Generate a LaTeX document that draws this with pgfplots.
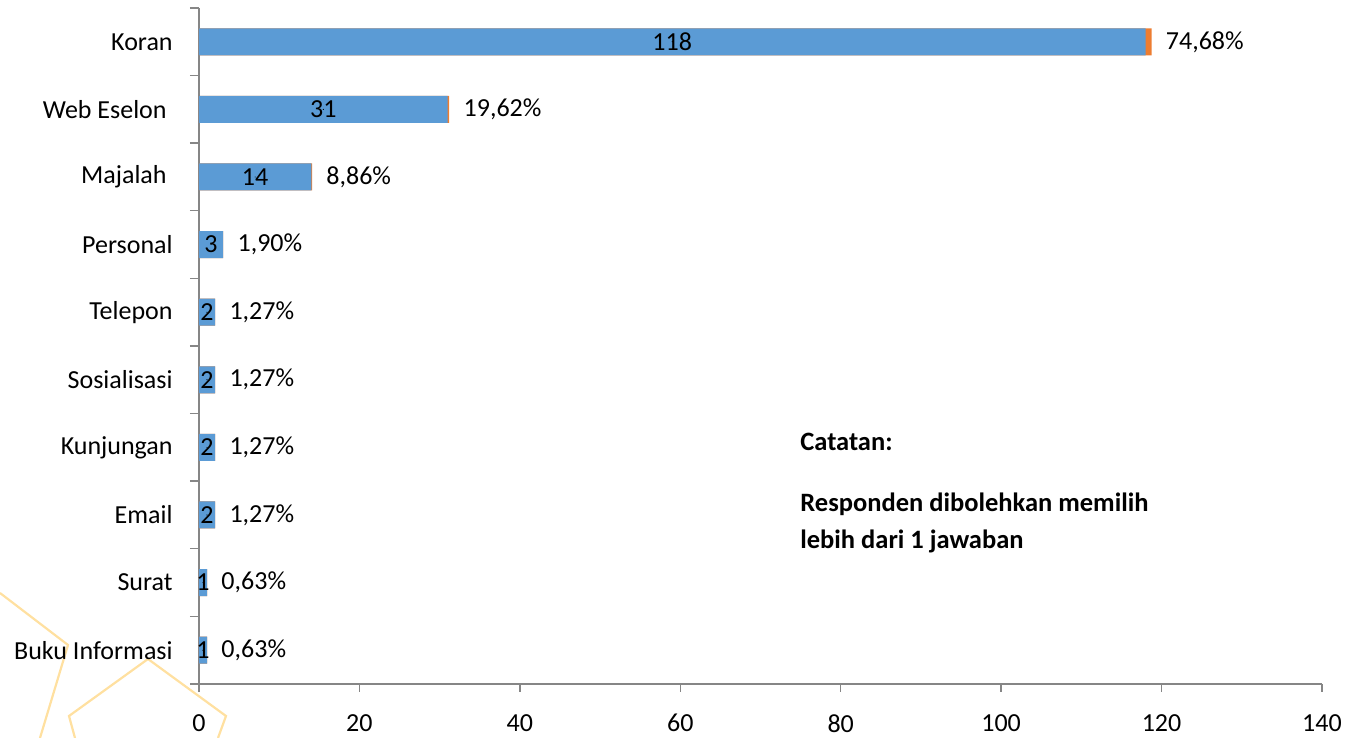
\documentclass[border=0pt]{standalone}
\usepackage{fontspec}
\setmainfont{Carlito}
\usepackage{pgfplots}
\usepackage{pgfplotstable}
\pgfplotsset{compat=1.18}
\definecolor{barblue}{HTML}{5B9BD5}
\definecolor{barorange}{HTML}{ED7D31}
\definecolor{axisgray}{HTML}{868686}
\definecolor{deco}{HTML}{FFE0A0}

\pgfplotstableread{
y v p lab
9 118 0.7468 74,68
8 31 0.1962 19,62
7 14 0.0886 8,86
6 3 0.0190 1,90
5 2 0.0127 1,27
4 2 0.0127 1,27
3 2 0.0127 1,27
2 2 0.0127 1,27
1 1 0.0063 0,63
0 1 0.0063 0,63
}\datatable

\begin{document}
\begin{tikzpicture}[font=\fontsize{13}{15.6}\selectfont]
\useasboundingbox (-99.5pt,-27pt) rectangle (573.5pt,342pt);
\begin{scope}[shift={(-99.5pt,342pt)}, x=0.5pt, y=-0.5pt]
\draw[deco, line width=1.1pt] (0,593) -- (68,645) -- (40,738);
\draw[deco, line width=1.1pt] (75,738) -- (69,716) -- (148,659) -- (226,716) -- (218,738);
\end{scope}
\begin{axis}[
  at={(0,0)}, anchor=south west,
  scale only axis, width=561.5pt, height=338pt,
  xbar, bar width=13.5pt,
  xmin=0, xmax=140, ymin=-0.5, ymax=9.5,
  axis lines*=left,
  axis line style={axisgray, line width=0.7pt},
  xtick={0,20,...,140},
  ytick={0,...,9},
  yticklabels={Buku Informasi, Surat, Email, Kunjungan, Sosialisasi, Telepon, Personal, Majalah\kern3pt, Web Eselon\kern3pt, Koran},
  minor ytick={-0.5,0.5,...,9.5},
  tick align=outside,
  major tick length=4pt, minor tick length=4.5pt,
  tick style={axisgray, line width=0.7pt},
  major y tick style={draw=none},
  xticklabel style={inner sep=0pt, anchor=north, yshift=-11pt},
  yticklabel style={inner sep=0pt, anchor=east, xshift=-9pt},
  /pgf/number format/assume math mode=true,
  clip=false,
]
\addplot[fill=barorange, draw=none, bar shift=0pt,
  point meta=explicit symbolic,
  nodes near coords={\pgfplotspointmeta\%},
  every node near coord/.style={anchor=west, inner sep=0pt, xshift=7pt, black}]
  table[x expr=\thisrow{v}+\thisrow{p}, y=y, meta=lab]{\datatable};
\addplot[fill=barblue, draw=none, bar shift=0pt] table[x=v, y=y]{\datatable};
\addplot[only marks, mark=*, mark size=0.01pt, mark options={draw=none, fill=none},
  point meta=explicit symbolic,
  nodes near coords,
  every node near coord/.style={anchor=center, inner sep=0pt, black}]
  table[x expr=\thisrow{v}/2, y=y, meta=v]{\datatable};
\end{axis}
\begin{scope}[every node/.style={anchor=base west, inner sep=0pt, font=\fontsize{13.25}{15.9}\selectfont\bfseries}]
\node at (300.5pt,116.5pt) {Catatan:};
\node at (300.5pt,86pt) {Responden dibolehkan memilih};
\node at (300.5pt,67.5pt) {lebih dari 1 jawaban};
\end{scope}
\end{tikzpicture}
\end{document}
